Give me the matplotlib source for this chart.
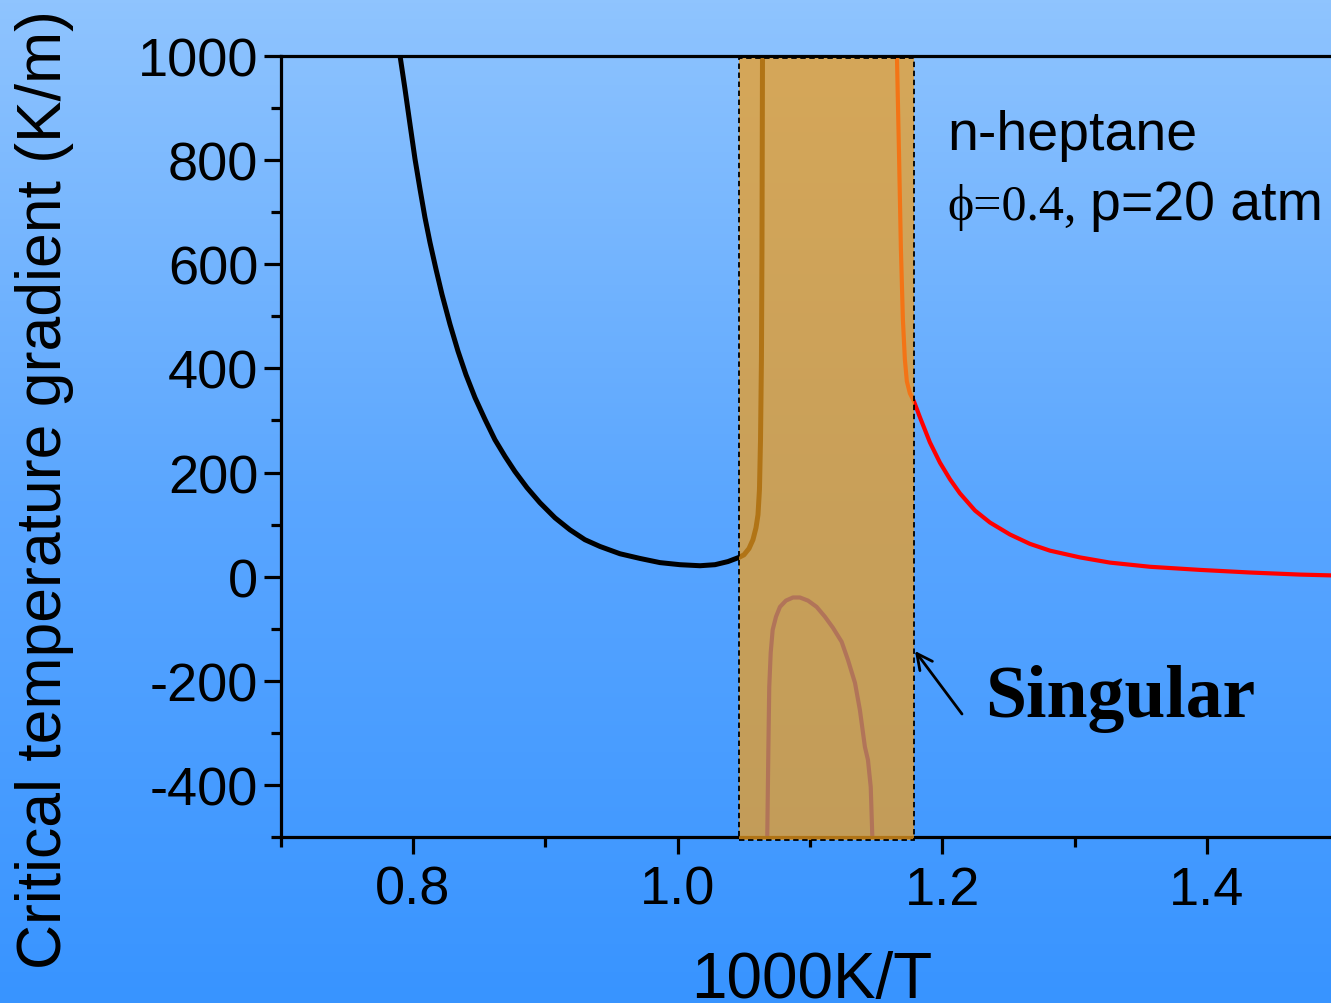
import numpy as np
import matplotlib
matplotlib.use("Agg")
import matplotlib.pyplot as plt
from matplotlib.patches import Rectangle
from matplotlib.colors import LinearSegmentedColormap

# ---- data ----
black_x = [0.7902, 0.7939, 0.7977, 0.8015, 0.8053, 0.8090, 0.8128, 0.8174, 0.8219,
           0.8279, 0.8340, 0.8400, 0.8468, 0.8544, 0.8619, 0.8695, 0.8770, 0.8861,
           0.8959, 0.9073, 0.9186, 0.9299, 0.9413, 0.9564, 0.9715, 0.9866, 1.0017,
           1.0169, 1.0282, 1.0380, 1.0463, 1.0501, 1.0539, 1.0569, 1.0592, 1.0607,
           1.0618, 1.0626, 1.0633, 1.0637, 1.0641]
black_y = [1000, 937, 869, 802, 744, 690, 642, 590, 542,
           485, 433, 388, 344, 302, 263, 231, 202, 171,
           142, 113, 90, 71, 58, 44, 35, 27, 23,
           21, 23, 29, 37, 42, 54, 71, 94, 119,
           167, 263, 417, 629, 1000]

red_x = [1.1657, 1.1672, 1.1687, 1.1702, 1.1717, 1.1732, 1.1755, 1.1785, 1.1831,
         1.1906, 1.1982, 1.2058, 1.2133, 1.2247, 1.2360, 1.2511, 1.2662, 1.2813,
         1.3040, 1.3267, 1.3569, 1.3947, 1.4325, 1.4703, 1.5005]
red_y = [1000, 821, 629, 494, 417, 375, 352, 337, 306,
         258, 219, 187, 160, 127, 104, 81, 63, 50,
         37, 27, 19, 13, 8, 4, 2]

blue_x = [1.0677, 1.0685, 1.0692, 1.0703, 1.0718, 1.0743, 1.0773, 1.0818, 1.0871,
          1.0924, 1.0985, 1.1050, 1.1113, 1.1173, 1.1239, 1.1287, 1.1340, 1.1377,
          1.1415, 1.1438, 1.1459, 1.1471]
blue_y = [-500, -338, -212, -146, -102, -77, -58, -46, -40,
          -40, -46, -58, -77, -98, -125, -160, -204, -256,
          -327, -352, -404, -500]

box_x = [1.0463, 1.1785]
box_y = [-506, 996]

xticks = [0.8, 1.0, 1.2, 1.4]
xticklabels = ["0.8", "1.0", "1.2", "1.4"]
yticks = [-400, -200, 0, 200, 400, 600, 800, 1000]
yticklabels = ["-400", "-200", "0", "200", "400", "600", "800", "1000"]

# ---- figure ----
W, H = 1331, 1004
fig = plt.figure(figsize=(W / 100, H / 100), dpi=100)

bg = fig.add_axes([0, 0, 1, 1], zorder=-10)
cmap = LinearSegmentedColormap.from_list("bg", ["#3894FF", "#5AA6FF", "#8FC4FE"])
grad = np.linspace(0, 1, 256).reshape(-1, 1)
bg.imshow(grad, aspect="auto", cmap=cmap, origin="lower", extent=[0, 1, 0, 1])
bg.set_axis_off()

x0px, x1px = 280.7, 1339.3
left = x0px / W
right = x1px / W
bottom = (H - 838) / H
top = (H - 57) / H
ax = fig.add_axes([left, bottom, right - left, top - bottom])
ax.patch.set_alpha(0)
ax.set_xlim(0.7, 1.5)
ax.set_ylim(-500, 1000)

ax.plot(black_x, black_y, color="black", lw=3.6, zorder=2)
ax.plot(red_x, red_y, color="#FF0000", lw=3.0, zorder=2)
ax.plot(blue_x, blue_y, color="#0000FF", lw=3.0, zorder=2)

rect = Rectangle((box_x[0], box_y[0]), box_x[1] - box_x[0], box_y[1] - box_y[0],
                 facecolor=(240 / 255, 158 / 255, 31 / 255, 0.74),
                 edgecolor="black", linestyle=(0, (3, 2)), linewidth=1.3,
                 zorder=5, clip_on=False)
ax.add_patch(rect)

for s in ["top", "bottom", "left", "right"]:
    ax.spines[s].set_linewidth(2.3)
    ax.spines[s].set_zorder(3)

ax.set_xticks(xticks)
ax.set_xticklabels(xticklabels)
ax.set_xticks([0.7, 0.9, 1.1, 1.3, 1.5], minor=True)
ax.set_yticks(yticks)
ax.set_yticklabels(yticklabels)
ax.set_yticks([-500, -300, -100, 100, 300, 500, 700, 900], minor=True)

fam = ["Liberation Sans", "DejaVu Sans"]
ax.tick_params(which="major", direction="out", length=12, width=2.3,
               labelsize=39, pad=4)
ax.tick_params(which="minor", direction="out", length=7, width=2.3)
ax.tick_params(axis="x", which="major", pad=8)
for lab in ax.get_xticklabels() + ax.get_yticklabels():
    lab.set_fontfamily(fam)

ax.set_xlabel("1000K/T", fontsize=46, family=fam)
ax.xaxis.set_label_coords((812 - x0px) / (x1px - x0px), -0.145)
ax.set_ylabel("Critical temperature gradient (K/m)", fontsize=45, family=fam)
ax.yaxis.set_label_coords((74 - x0px) / (x1px - x0px), (838 - 490) / (838 - 57))

fig.text(947 / W, 1 - 150 / H, "n-heptane", fontsize=40, family=fam,
         ha="left", va="baseline")
fig.text(947 / W, 1 - 220 / H, "ϕ=0.4,", fontsize=36,
         family=["Liberation Serif", "DejaVu Serif"], ha="left", va="baseline")
fig.text(1090 / W, 1 - 220 / H, "p=20 atm", fontsize=40, family=fam,
         ha="left", va="baseline")
fig.text(985 / W, 1 - 717 / H, "Singular", fontsize=53, family="Liberation Serif",
         fontweight="bold", ha="left", va="baseline")

ax.annotate("", xy=(915, H - 652), xycoords="figure pixels",
            xytext=(962, H - 715), textcoords="figure pixels",
            arrowprops=dict(arrowstyle="->", color="black", lw=2,
                            mutation_scale=28, shrinkA=0, shrinkB=0))

fig.savefig("out.png", dpi=100)
